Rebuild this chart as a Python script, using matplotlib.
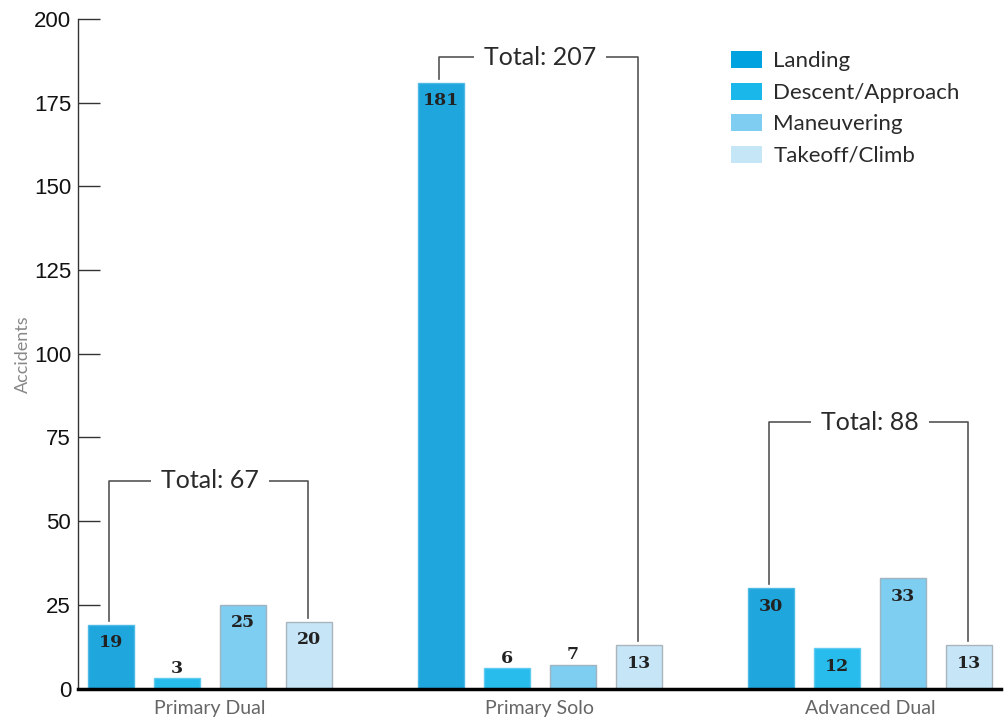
import matplotlib.pyplot as plt
import numpy as np

groups = ['Primary Dual', 'Primary Solo', 'Advanced Dual']
phases = ['Landing', 'Descent/Approach', 'Maneuvering', 'Takeoff/Climb']
landing = [19, 181, 30]
descent = [3, 6, 12]
maneuvering = [25, 7, 33]
takeoff = [20, 13, 13]
series = [landing, descent, maneuvering, takeoff]
totals = [sum(v) for v in zip(*series)]

colors = ['#1ea6dd', '#28bced', '#7ecef2', '#c6e6f8']
legend_colors = ['#00a3e0', '#1ab8ea', '#7fcdf0', '#c5e6f7']
edges = ['#4fb9e6', '#5fcbf0', '#9fb3c0', '#a9b4bb']
bracket_y = [62, 188.5, 79.5]

fig = plt.figure(figsize=(10.05, 7.17), dpi=100)
ax = fig.add_axes([0.0776, 0.0397, 0.9184, 0.9338])

step = 5
x0 = np.arange(len(groups)) * step
for i, vals in enumerate(series):
    xs = x0 + i
    ax.bar(xs, vals, width=0.7, color=colors[i], edgecolor=edges[i], linewidth=1, zorder=2)
    for x, v in zip(xs, vals):
        if v >= 10:
            ax.annotate(str(v), (x, v), xytext=(0, -13), textcoords='offset points',
                        ha='center', va='center', fontsize=12.5, fontweight='bold',
                        family='DejaVu Serif', color='#222222', zorder=4)
        else:
            ax.annotate(str(v), (x, v), xytext=(0, 7.5), textcoords='offset points',
                        ha='center', va='center', fontsize=12.5, fontweight='bold',
                        family='DejaVu Serif', color='#222222', zorder=4)

# total brackets
for g in range(len(groups)):
    xl = x0[g] - 0.03
    xr = x0[g] + 3 - 0.02
    yb = bracket_y[g]
    ax.plot([xl, xl, xr, xr], [series[0][g] + 1.2, yb, yb, series[3][g] + 1.2],
            color='#555555', lw=1.2, zorder=1)
    ax.text(x0[g] + 1.5, yb, 'Total: %d' % totals[g], ha='center', va='center',
            fontsize=18, family='Lato', color='#2a2a2a', zorder=3,
            bbox=dict(facecolor='white', edgecolor='none', pad=7))

ax.set_xlim(-0.5, 13.485)
ax.set_ylim(0, 200)
ax.set_yticks(np.arange(0, 201, 25))
ax.set_xticks(x0 + 1.5)
ax.set_xticklabels(groups, fontsize=14, family='Lato', color='#666666')
ax.tick_params(axis='x', length=0, pad=8)
ax.tick_params(axis='y', direction='in', length=16, width=1, color='#333333',
               labelsize=16, pad=5, labelcolor='#111111')
for lab in ax.get_yticklabels():
    lab.set_family('Liberation Sans')
    lab.set_fontstretch('condensed')

ax.spines['top'].set_visible(False)
ax.spines['right'].set_visible(False)
ax.spines['left'].set_color('#333333')
ax.spines['left'].set_linewidth(1)
ax.spines['bottom'].set_color('#000000')
ax.spines['bottom'].set_linewidth(2.5)
ax.spines['bottom'].set_zorder(5)

ax.set_ylabel('Accidents', fontsize=13, family='Lato', color='#888888', labelpad=2)

handles = [plt.Rectangle((0, 0), 1, 1, facecolor=c, edgecolor='none') for c in legend_colors]
leg = ax.legend(handles, phases, loc='upper left', bbox_to_anchor=(0.7075, 0.952),
                frameon=False, fontsize=16, handlelength=1.4, handleheight=0.82,
                handletextpad=0.5, labelspacing=0.5, borderaxespad=0, borderpad=0)
for t in leg.get_texts():
    t.set_family('Lato')
    t.set_color('#2a2a2a')

fig.savefig('out.png', dpi=100)
